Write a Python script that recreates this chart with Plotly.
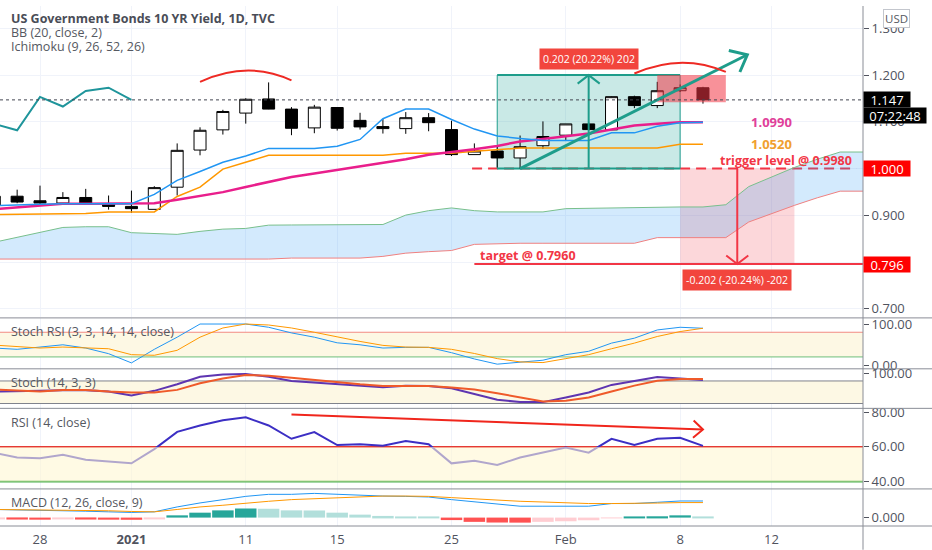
import math
import plotly.graph_objects as go
from plotly.subplots import make_subplots

# ---- data (daily bars, TVC:US10Y) ----
bar_dates = ["2020-12-23", "2020-12-24", "2020-12-28", "2020-12-29", "2020-12-30", "2020-12-31",
             "2021-01-04", "2021-01-05", "2021-01-06", "2021-01-07", "2021-01-08", "2021-01-11",
             "2021-01-12", "2021-01-13", "2021-01-14", "2021-01-15", "2021-01-19", "2021-01-20",
             "2021-01-21", "2021-01-22", "2021-01-25", "2021-01-26", "2021-01-27", "2021-01-28",
             "2021-01-29", "2021-02-01", "2021-02-02", "2021-02-03", "2021-02-04", "2021-02-05",
             "2021-02-08", "2021-02-09"]
# future bars, only the Ichimoku cloud is plotted there
future_dates = ["2021-02-10", "2021-02-11", "2021-02-12", "2021-02-16", "2021-02-17",
                "2021-02-18", "2021-02-19"]

opens = [0.921, 0.941, 0.9313, 0.9264, 0.9383, 0.9243, 0.9192, 0.9129, 0.9603, 1.0397, 1.0829,
         1.1188, 1.149, 1.1273, 1.0871, 1.1307, 1.1032, 1.0899, 1.0856, 1.1089, 1.0835, 1.030,
         1.0376, 1.0228, 1.049, 1.0715, 1.0956, 1.0829, 1.1539, 1.1349, 1.1666, 1.173]
highs = [0.943, 0.955, 0.9636, 0.9497, 0.9567, 0.9425, 0.953, 0.9624, 1.0539, 1.0884, 1.1258,
         1.1505, 1.1844, 1.1315, 1.1364, 1.1315, 1.1194, 1.1061, 1.1209, 1.1188, 1.1025, 1.0539,
         1.0497, 1.0708, 1.101, 1.0956, 1.099, 1.1545, 1.156, 1.1856, 1.180, 1.175]
lows = [0.919, 0.926, 0.9214, 0.926, 0.924, 0.9123, 0.9053, 0.9129, 0.9425, 1.0285, 1.0729,
        1.0962, 1.127, 1.0715, 1.0757, 1.0814, 1.0835, 1.075, 1.0744, 1.0799, 1.027, 1.030,
        1.0025, 1.0004, 1.0419, 1.0603, 1.081, 1.0829, 1.1294, 1.1294, 1.164, 1.139]
closes = [0.941, 0.9285, 0.9264, 0.9383, 0.9243, 0.9192, 0.9144, 0.9594, 1.0391, 1.082, 1.1222,
          1.1484, 1.1273, 1.0863, 1.1315, 1.0863, 1.0892, 1.0856, 1.1089, 1.0983, 1.030, 1.0376,
          1.0228, 1.0469, 1.0687, 1.0956, 1.0835, 1.1539, 1.1349, 1.1666, 1.173, 1.147]

bb_basis = [0.9133, 0.9175, 0.9214, 0.925, 0.925, 0.925, 0.925, 0.926, 0.9334, 0.9419, 0.9497,
            0.9609, 0.9721, 0.982, 0.9894, 0.9968, 1.0053, 1.0116, 1.0201, 1.0296, 1.0349, 1.0412,
            1.0486, 1.0581, 1.0634, 1.0687, 1.075, 1.0835, 1.092, 1.0962, 1.099, 1.099]
tenkan = [0.9207, 0.9228, 0.924, 0.925, 0.925, 0.925, 0.925, 0.945, 0.975, 0.9939, 1.0137, 1.027,
          1.0433, 1.0433, 1.0433, 1.048, 1.0624, 1.1068, 1.1273, 1.1273, 1.105, 1.0846, 1.0698,
          1.0645, 1.0603, 1.0603, 1.0603, 1.0765, 1.0765, 1.0905, 1.0983, 1.0994]
kijun = [0.9017, 0.9021, 0.9023, 0.9027, 0.9038, 0.907, 0.9074, 0.9074, 0.9404, 0.9603, 0.9989,
         1.0131, 1.0285, 1.0285, 1.0285, 1.0285, 1.0285, 1.0285, 1.0328, 1.0328, 1.0328, 1.037,
         1.0412, 1.044, 1.044, 1.044, 1.044, 1.044, 1.044, 1.044, 1.052, 1.052]
chikou = [1.0956, 1.082, 1.1533, 1.1328, 1.166, 1.173, 1.147]   # first 7 bars
senkou_a = [0.8425, 0.853, 0.8636, 0.8742, 0.8757, 0.8757, 0.863, 0.8615, 0.8594, 0.8658, 0.8706,
            0.8721, 0.8791, 0.8795, 0.8799, 0.8801, 0.8803, 0.8805, 0.9006, 0.9101, 0.9159, 0.9101,
            0.9074, 0.9074, 0.9074, 0.9144, 0.9154, 0.9165, 0.9169, 0.9175, 0.918, 0.918, 0.9228,
            0.9615, 0.9814, 1.0025, 1.0201, 1.0355, 1.0355]
senkou_b = [0.8066] * 13 + [0.8087] * 4 + [0.8123, 0.8192, 0.8224, 0.8249, 0.838, 0.8398] + \
           [0.8404] * 6 + [0.8524] * 4 + [0.8858, 0.9038, 0.9214, 0.9376, 0.9518, 0.9518]

stochrsi_k = [41.6, 38.5, 44.0, 49.5, 41.6, 27.9, 5.5, 38.5, 68.0, 100, 100, 100, 92.1, 78.4, 68.0,
              54.3, 49.5, 41.6, 43.3, 43.3, 30.3, 15.1, 2.4, 6.3, 12.0, 25.5, 33.7, 53.6, 65.6,
              85.6, 92.1, 89.7]
stochrsi_d = [48.8, 44.7, 41.6, 44.0, 42.8, 39.9, 25.5, 24.0, 36.1, 68.0, 90.4, 100, 97.6, 90.4,
              80.0, 68.0, 57.7, 48.1, 44.0, 43.3, 38.5, 28.4, 15.9, 7.9, 6.3, 15.9, 25.5, 39.9,
              53.6, 69.7, 81.7, 89.7]
stoch_k = [51.8, 51.8, 53.7, 55.3, 55.3, 51.8, 41.3, 53.7, 71.1, 91.3, 97.4, 98.4, 91.3, 80.0, 75.5,
           71.1, 67.6, 63.2, 67.6, 66.8, 60.5, 45.8, 30.0, 23.7, 23.7, 36.1, 49.2, 69.5, 80.0, 90.5,
           86.8, 82.6]
stoch_d = [57.1, 54.5, 51.8, 56.3, 56.3, 51.8, 49.2, 49.2, 56.3, 73.7, 86.8, 95.8, 93.9, 88.7, 82.6,
           76.3, 71.1, 66.8, 67.6, 66.8, 62.4, 57.1, 47.4, 36.1, 25.5, 27.4, 36.1, 51.8, 67.6, 80.8,
           85.3, 85.3]
rsi = [56.5, 53.9, 53.5, 55.4, 52.6, 51.6, 50.5, 58.7, 68.7, 72.4, 75.4, 77.1, 72.4, 64.7, 68.6,
       61.1, 61.5, 60.7, 63.4, 61.5, 50.5, 52.0, 49.5, 53.9, 56.7, 59.6, 56.7, 64.7, 61.1, 64.7,
       65.3, 60.6]
macd_line = [0.0137, 0.0132, 0.0125, 0.0118, 0.0108, 0.0097, 0.0087, 0.0097, 0.018, 0.0247, 0.0303,
             0.0358, 0.0392, 0.0392, 0.0408, 0.0392, 0.0375, 0.0363, 0.0358, 0.0347, 0.0303, 0.0267,
             0.022, 0.0192, 0.0192, 0.0192, 0.0192, 0.0237, 0.0237, 0.0258, 0.028, 0.028]
macd_signal = [0.0137, 0.0133, 0.013, 0.0128, 0.0125, 0.0115, 0.0103, 0.0097, 0.0137, 0.018, 0.0208,
               0.0247, 0.0275, 0.0303, 0.032, 0.0337, 0.0347, 0.0363, 0.0363, 0.0358, 0.0337, 0.0313,
               0.0292, 0.0275, 0.0263, 0.025, 0.0237, 0.0237, 0.0237, 0.0245, 0.0253, 0.0253]
macd_hist = [-0.0028, -0.0033, -0.0035, -0.0025, -0.0033, -0.0035, -0.0037, -0.0025, 0.0038, 0.0083,
             0.0122, 0.0153, 0.015, 0.0122, 0.012, 0.0083, 0.005, 0.0028, 0.0017, 0.0007, -0.0042,
             -0.0072, -0.0083, -0.0085, -0.0072, -0.0062, -0.0045, -0.0012, 0.0012, 0.0022, 0.0038,
             0.0017]

tick_dates = ["2020-12-28", "2021-01-04", "2021-01-11", "2021-01-15", "2021-01-25",
              "2021-02-01", "2021-02-08", "2021-02-12"]
tick_text = ["28", "<b>2021</b>", "11", "15", "25", "Feb", "8", "12"]

trigger_level = 1.000
target_level = 0.796
range_top = 1.200
last_price = closes[-1]

# ---- geometry ----
all_dates = bar_dates + future_dates
pos = {d: k for k, d in enumerate(all_dates)}
xb = [pos[d] for d in bar_dates]
xall = list(range(len(all_dates)))
x0 = pos["2020-12-28"]
x_range = [x0 - 1.75, x0 + 36.0]
PW, PH = 863, 526
y_main = [0.6818, 1.3478]
y_srsi = [-8.9, 113.7]
y_stoch = [7.1, 111.05]
y_rsi = [35.71, 82.0]
y_macd = [-0.01417, 0.0475]
sx = PW / (x_range[1] - x_range[0])
sy_main = 315 / (y_main[1] - y_main[0])
sy_rsi = 81 / (y_rsi[1] - y_rsi[0])


def py(Y):
    return 1 - Y / PH


def chevron(xf, yf, xt, yt, sy, length=14, ang=40):
    dx, dy = (xt - xf) * sx, (yt - yf) * sy
    n = math.hypot(dx, dy)
    ux, uy = -dx / n, -dy / n
    pts = []
    for s in (1, -1):
        a = math.radians(ang) * s
        rx = ux * math.cos(a) - uy * math.sin(a)
        ry = ux * math.sin(a) + uy * math.cos(a)
        pts.append((xt + rx * length / sx, yt + ry * length / sy))
    return f"M{pts[0][0]},{pts[0][1]} L{xt},{yt} L{pts[1][0]},{pts[1][1]}"


def arc(xa, ya, xp, yp, xc, yc):
    cy = 2 * yp - 0.5 * (ya + yc)
    cx = 2 * xp - 0.5 * (xa + xc)
    return f"M{xa},{ya} Q{cx},{cy} {xc},{yc}"


FONT = "Open Sans"
RED = "#f23645"
TEAL = "#1e9d8b"

fig = make_subplots(rows=5, cols=1, shared_xaxes=True, vertical_spacing=0)

# ---- main pane ----
fig.add_trace(go.Scatter(x=xall, y=senkou_b, mode="lines", line=dict(color="#ef8080", width=1),
                         hoverinfo="skip"), row=1, col=1)
fig.add_trace(go.Scatter(x=xall, y=senkou_a, mode="lines", line=dict(color="#78bf8c", width=1),
                         fill="tonexty", fillcolor="rgba(33,150,243,0.2)", hoverinfo="skip"), row=1, col=1)
fig.add_trace(go.Scatter(x=xb, y=kijun, mode="lines", line=dict(color="#ff9800", width=1.5),
                         hoverinfo="skip"), row=1, col=1)
fig.add_trace(go.Scatter(x=xb, y=bb_basis, mode="lines", line=dict(color="#e91e8c", width=2.5),
                         hoverinfo="skip"), row=1, col=1)
fig.add_trace(go.Scatter(x=xb, y=tenkan, mode="lines", line=dict(color="#2196f3", width=1.5),
                         hoverinfo="skip"), row=1, col=1)
fig.add_trace(go.Scatter(x=xb[:len(chikou)], y=chikou, mode="lines", line=dict(color="#1f959b", width=2),
                         hoverinfo="skip"), row=1, col=1)
fig.add_trace(go.Candlestick(x=xb, open=opens, high=highs, low=lows, close=closes,
                             increasing=dict(line=dict(color="#000000", width=1), fillcolor="#ffffff"),
                             decreasing=dict(line=dict(color="#000000", width=1), fillcolor="#000000"),
                             whiskerwidth=0, hoverinfo="skip"), row=1, col=1)

# ---- Stoch RSI ----
fig.add_trace(go.Scatter(x=xb, y=stochrsi_k, mode="lines", line=dict(color="#2196f3", width=1)), row=2, col=1)
fig.add_trace(go.Scatter(x=xb, y=stochrsi_d, mode="lines", line=dict(color="#ff9800", width=1)), row=2, col=1)
# ---- Stoch ----
fig.add_trace(go.Scatter(x=xb, y=stoch_k, mode="lines", line=dict(color="#5e35b1", width=2)), row=3, col=1)
fig.add_trace(go.Scatter(x=xb, y=stoch_d, mode="lines", line=dict(color="#ef5a2a", width=2)), row=3, col=1)
# ---- RSI ----
fig.add_trace(go.Scatter(x=xb, y=rsi, mode="lines", line=dict(color="#3c2fc4", width=2)), row=4, col=1)
# ---- MACD ----
hist_colors = []
for k, v in enumerate(macd_hist):
    prev = macd_hist[k - 1] if k else v
    if v >= 0:
        hist_colors.append("#26a69a" if v > prev else "#b2dfdb")
    else:
        hist_colors.append("#ff5252" if v < prev else "#ffcdd2")
fig.add_trace(go.Bar(x=xb, y=macd_hist, marker=dict(color=hist_colors, line=dict(width=0))), row=5, col=1)
fig.add_trace(go.Scatter(x=xb, y=macd_line, mode="lines", line=dict(color="#2196f3", width=1)), row=5, col=1)
fig.add_trace(go.Scatter(x=xb, y=macd_signal, mode="lines", line=dict(color="#ff9800", width=1)), row=5, col=1)

shapes = []
xr0, xr1 = x_range
# band fills
shapes.append(dict(type="rect", xref="x2", yref="y2", x0=xr0, x1=xr1, y0=20, y1=80, layer="between",
                   fillcolor="#fdf8e4", line=dict(width=0)))
shapes.append(dict(type="line", xref="x2", yref="y2", x0=xr0, x1=xr1, y0=80, y1=80, layer="between",
                   line=dict(color="#f28b82", width=1)))
shapes.append(dict(type="line", xref="x2", yref="y2", x0=xr0, x1=xr1, y0=20, y1=20, layer="between",
                   line=dict(color="#6dbf7b", width=1)))
shapes.append(dict(type="rect", xref="x3", yref="y3", x0=xr0, x1=xr1, y0=20, y1=80, layer="between",
                   fillcolor="#fdf8e4", line=dict(width=0)))
for lv in (20, 80):
    shapes.append(dict(type="line", xref="x3", yref="y3", x0=xr0, x1=xr1, y0=lv, y1=lv, layer="between",
                       line=dict(color="#80838c", width=1)))
shapes.append(dict(type="line", xref="x4", yref="y4", x0=xr0, x1=xr1, y0=60, y1=60, layer="between",
                   line=dict(color="#e53935", width=2)))
shapes.append(dict(type="line", xref="x4", yref="y4", x0=xr0, x1=xr1, y0=40, y1=40, layer="between",
                   line=dict(color="#4caf50", width=2)))
shapes.append(dict(type="rect", xref="x4", yref="y4", x0=xr0, x1=xr1, y0=40, y1=60, layer="above",
                   fillcolor="rgba(255,246,210,0.6)", line=dict(width=0)))

# trigger / target lines
shapes.append(dict(type="line", xref="x", yref="y", x0=pos["2021-01-25"] + 0.9, x1=xr1 - 0.3,
                   y0=trigger_level, y1=trigger_level, layer="between",
                   line=dict(color=RED, width=2, dash="10px,6px")))
shapes.append(dict(type="line", xref="x", yref="y", x0=pos["2021-01-26"], x1=xr1,
                   y0=target_level, y1=target_level, layer="between", line=dict(color=RED, width=2)))
# price range (up)
ra, rb = pos["2021-01-27"], pos["2021-02-08"]
shapes.append(dict(type="rect", xref="x", yref="y", x0=ra, x1=rb, y0=trigger_level, y1=range_top,
                   layer="between", fillcolor="rgba(38,166,154,0.25)", line=dict(color=TEAL, width=1)))
for lv in (trigger_level, range_top):
    shapes.append(dict(type="line", xref="x", yref="y", x0=ra, x1=rb, y0=lv, y1=lv, layer="between",
                       line=dict(color=TEAL, width=2)))
xm = pos["2021-02-02"]
shapes.append(dict(type="line", xref="x", yref="y", x0=xm, x1=xm, y0=trigger_level, y1=range_top,
                   layer="above", line=dict(color=TEAL, width=2)))
shapes.append(dict(type="path", xref="x", yref="y", layer="above", line=dict(color=TEAL, width=2),
                   path=chevron(xm, trigger_level, xm, range_top, sy_main, 14, 52)))
# price range (down)
da, db = pos["2021-02-08"], pos["2021-02-16"]
shapes.append(dict(type="rect", xref="x", yref="y", x0=da, x1=db, y0=target_level, y1=trigger_level,
                   layer="between", fillcolor="rgba(242,54,69,0.2)", line=dict(width=0)))
xd = pos["2021-02-10"] + 0.5
shapes.append(dict(type="line", xref="x", yref="y", x0=xd, x1=xd, y0=trigger_level, y1=target_level,
                   layer="above", line=dict(color=RED, width=2)))
shapes.append(dict(type="path", xref="x", yref="y", layer="above", line=dict(color=RED, width=2),
                   path=chevron(xd, trigger_level, xd, target_level, sy_main, 14, 52)))
# red box over the last bars
shapes.append(dict(type="rect", xref="x", yref="y", x0=pos["2021-02-05"], x1=pos["2021-02-10"],
                   y0=1.142, y1=range_top, layer="above", fillcolor="rgba(242,54,69,0.55)",
                   line=dict(width=0)))
# trend arrow
ta = (pos["2021-01-28"], trigger_level)
tb = (pos["2021-02-11"] - 0.06, 1.2436)
shapes.append(dict(type="line", xref="x", yref="y", x0=ta[0], y0=ta[1], x1=tb[0], y1=tb[1],
                   layer="above", line=dict(color=TEAL, width=3)))
shapes.append(dict(type="path", xref="x", yref="y", layer="above", line=dict(color=TEAL, width=3),
                   path=chevron(ta[0], ta[1], tb[0], tb[1], sy_main, 19, 40)))
# arcs
shapes.append(dict(type="path", xref="x", yref="y", layer="above", line=dict(color="#ee2a24", width=2),
                   path=arc(pos["2021-01-07"], 1.1856, pos["2021-01-11"] + 0.05, 1.2097,
                            pos["2021-01-13"], 1.1886)))
shapes.append(dict(type="path", xref="x", yref="y", layer="above", line=dict(color="#ee2a24", width=2),
                   path=arc(pos["2021-02-04"], 1.2034, pos["2021-02-08"] + 0.03, 1.2266,
                            pos["2021-02-10"], 1.2068)))
# last price line
shapes.append(dict(type="line", xref="x", yref="y", x0=xr0, x1=xr1, y0=last_price, y1=last_price,
                   layer="above", line=dict(color="#434651", width=1, dash="dot")))
# RSI trend line
ra0, ra1 = (pos["2021-01-13"], 78.7), (pos["2021-02-09"], 70.1)
shapes.append(dict(type="line", xref="x4", yref="y4", x0=ra0[0], y0=ra0[1], x1=ra1[0], y1=ra1[1],
                   layer="above", line=dict(color="#f0261c", width=2)))
shapes.append(dict(type="path", xref="x4", yref="y4", layer="above", line=dict(color="#f0261c", width=2),
                   path=chevron(ra0[0], ra0[1], ra1[0], ra1[1], sy_rsi, 13, 42)))
# pane separators and the right border
for Y in (315.5, 367, 407, 488.5, 526):
    shapes.append(dict(type="line", xref="paper", yref="paper", x0=0, x1=932 / PW, y0=py(Y), y1=py(Y),
                       line=dict(color="#8a8d96", width=1)))
shapes.append(dict(type="line", xref="paper", yref="paper", x0=1, x1=1, y0=1, y1=py(550),
                   line=dict(color="#8a8d96", width=1)))

ann = []


def label(text, Y, size=12.5, bold=False, color="#555861"):
    ann.append(dict(text=f"<b>{text}</b>" if bold else text, xref="paper", yref="paper", x=9 / PW,
                    y=py(Y), xanchor="left", yanchor="middle", showarrow=False,
                    font=dict(family=FONT, size=size, color=color)))


label("US Government Bonds 10 YR Yield, 1D, TVC", 13, 12.5, True, "#4a4d57")
label("BB (20, close, 2)", 27)
label("Ichimoku (9, 26, 52, 26)", 41)
label("Stoch RSI (3, 3, 14, 14, close)", 329)
label("Stoch (14, 3, 3)", 381)
label("RSI (14, close)", 421)
label("MACD (12, 26, close, 9)", 502.5)


def axis_tag(text, yv, bg, width=44, yshift=0):
    ann.append(dict(text=text, xref="paper", yref="y", x=1.0, y=yv, xanchor="left", yanchor="middle",
                    showarrow=False, bgcolor=bg, width=width, height=13, borderpad=1, yshift=yshift,
                    align="center", font=dict(family=FONT, size=13, color="#ffffff")))


axis_tag(f"{last_price:.3f}", last_price, "#000000")
axis_tag("07:22:48", last_price, "#000000", 60, -16)
axis_tag(f"{trigger_level:.3f}", trigger_level, "#ff0000")
axis_tag(f"{target_level:.3f}", target_level, "#ff0000")

ann.append(dict(text="USD", xref="paper", yref="paper", x=897 / PW, y=py(13), xanchor="center",
                yanchor="middle", showarrow=False, font=dict(family=FONT, size=11.5, color="#555861"),
                bordercolor="#c3c6cd", borderwidth=1, borderpad=1, bgcolor="#ffffff"))


def chart_text(text, xv, yv, color, xanchor="left", size=13):
    ann.append(dict(text=f"<b>{text}</b>", xref="x", yref="y", x=xv, y=yv, xanchor=xanchor,
                    yanchor="middle", showarrow=False, font=dict(family=FONT, size=size, color=color)))


chart_text(f"{bb_basis[-1]:.4f}", pos["2021-02-11"], bb_basis[-1], "#e0409a")
chart_text(f"{kijun[-1]:.4f}", pos["2021-02-11"], kijun[-1], "#f0a030")
chart_text("trigger level @ 0.9980", x0 + 35.6, 1.018, RED, "right", 12.5)
chart_text("target @ 0.7960", pos["2021-01-26"] + 0.15, 0.815, RED, "left", 12.5)


def range_tag(text, xv, yv):
    ann.append(dict(text=text, xref="x", yref="y", x=xv, y=yv, xanchor="center", yanchor="middle",
                    showarrow=False, bgcolor="#f2453d", borderpad=3,
                    font=dict(family=FONT, size=10.5, color="#ffffff")))


range_tag("0.202 (20.22%) 202", xm, 1.2347)
range_tag("-0.202 (-20.24%) -202", xd, 0.7622)

fig.update_layout(
    width=932, height=550, margin=dict(l=0, r=69, t=0, b=24),
    paper_bgcolor="#ffffff", plot_bgcolor="#ffffff", showlegend=False, hovermode=False,
    boxgap=0.25, bargap=0.06, shapes=shapes, annotations=ann,
    font=dict(family=FONT, size=13, color="#50535e"),
)
fig.update_xaxes(range=x_range, tickvals=[pos[d] for d in tick_dates], ticktext=tick_text,
                 showgrid=True, gridcolor="#f0f3fa", zeroline=False, showline=False, ticks="",
                 rangeslider_visible=False, showticklabels=False, fixedrange=True)
fig.update_xaxes(showticklabels=True, ticklabelstandoff=4,
                 tickfont=dict(family=FONT, size=13, color="#50535e"), row=5, col=1)

yax = dict(side="right", zeroline=False, showline=False, ticks="outside", ticklen=5,
           tickcolor="#50535e", tickfont=dict(family=FONT, size=13, color="#50535e"), fixedrange=True)
fig.update_layout(
    yaxis=dict(yax, domain=[py(315), 1.0], range=y_main, tickvals=[0.7, 0.8, 0.9, 1.0, 1.1, 1.2, 1.3],
               ticktext=[f"{v:.3f}" for v in (0.7, 0.8, 0.9, 1.0, 1.1, 1.2, 1.3)],
               showgrid=True, gridcolor="#f0f3fa"),
    yaxis2=dict(yax, domain=[py(367), py(316)], range=y_srsi, tickvals=[0, 100],
                ticktext=["0.00", "100.00"], showgrid=False),
    yaxis3=dict(yax, domain=[py(407), py(367.5)], range=y_stoch, tickvals=[100],
                ticktext=["100.00"], showgrid=False),
    yaxis4=dict(yax, domain=[py(488.5), py(407.5)], range=y_rsi, tickvals=[40, 60, 80],
                ticktext=["40.00", "60.00", "80.00"], showgrid=False),
    yaxis5=dict(yax, domain=[0, py(489)], range=y_macd, tickvals=[0], ticktext=["0.000"],
                showgrid=False),
)

# the page body has a default 8px margin; drop it so the 932x550 figure fills the window
fig.write_html("out.html", config={"displayModeBar": False},
               post_script="document.body.style.margin='0px';")
